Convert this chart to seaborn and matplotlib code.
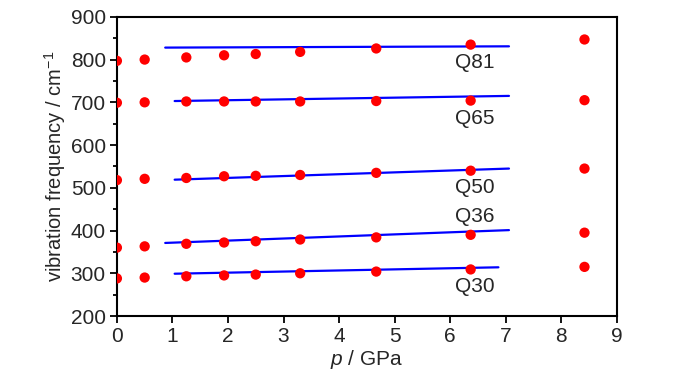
import numpy as np
import pandas as pd
import seaborn as sns
import matplotlib.pyplot as plt

# --- dados ---
pressao = [0, 0.5, 1.25, 1.93, 2.5, 3.3, 4.67, 6.37, 8.42]
modos = ['Q81', 'Q65', 'Q50', 'Q36', 'Q30']
freq_q81 = [797, 800, 805, 810, 813, 818, 826, 835, 847]
freq_q65 = [699, 700, 702, 702, 702, 702, 703, 704, 705]
freq_q50 = [518, 521, 523, 527, 528, 530, 535, 540, 545]
freq_q36 = [360, 363, 369, 372, 375, 379, 384, 390, 395]
freq_q30 = [288, 290, 293, 295, 297, 300, 304, 309, 315]

# linhas calculadas (azul)
calc_p = {'Q81': [0.87, 7.06], 'Q65': [1.04, 7.06], 'Q50': [1.04, 7.06],
          'Q36': [0.87, 7.06], 'Q30': [1.04, 6.87]}
calc_f = {'Q81': [828, 831], 'Q65': [703, 715], 'Q50': [519, 545],
          'Q36': [371, 401], 'Q30': [299, 314]}

exp_freqs = [freq_q81, freq_q65, freq_q50, freq_q36, freq_q30]
df_exp = pd.DataFrame({
    'p': pressao * len(modos),
    'freq': sum(exp_freqs, []),
    'modo': np.repeat(modos, len(pressao)),
})
df_calc = pd.DataFrame({
    'p': sum([calc_p[m] for m in modos], []),
    'freq': sum([calc_f[m] for m in modos], []),
    'modo': np.repeat(modos, 2),
})

sns.set_style('ticks')
plt.rcParams['font.family'] = ['Liberation Sans', 'DejaVu Sans']
plt.rcParams['mathtext.fontset'] = 'custom'
plt.rcParams['mathtext.it'] = 'Liberation Sans:italic'
plt.rcParams['mathtext.rm'] = 'Liberation Sans'

fig = plt.figure(figsize=(7, 3.74), dpi=100)
ax = fig.add_axes([0.167, 0.155, 0.714, 0.8])

sns.lineplot(data=df_calc, x='p', y='freq', units='modo', estimator=None,
             color='#0000ff', lw=1.6, ax=ax)
sns.scatterplot(data=df_exp, x='p', y='freq', color='#ff0000', s=55,
                edgecolor='none', ax=ax, zorder=3)

# rotulos dos modos
pos_rotulos = {'Q81': 793, 'Q65': 661, 'Q50': 500, 'Q36': 433, 'Q30': 268}
for m in modos:
    ax.text(6.45, pos_rotulos[m], m, ha='center', va='center', fontsize=15)

ax.set_xlim(0, 9)
ax.set_ylim(200, 900)
ax.set_xticks(range(0, 10))
ax.set_yticks(range(200, 901, 100))
ax.set_yticks(range(250, 900, 100), minor=True)
ax.tick_params(axis='both', which='major', labelsize=15, length=5, width=1.3,
               direction='out', color='black', pad=3)
ax.tick_params(axis='y', which='minor', length=3, width=1.3, direction='out', color='black')
for s in ax.spines.values():
    s.set_linewidth(1.5)
    s.set_color('black')

ax.set_xlabel('$\\it{p}$ / GPa', fontsize=15, labelpad=1)
ax.set_ylabel('vibration frequency / cm$^{-1}$', fontsize=14.5, labelpad=2)

plt.savefig('out.png', dpi=100)
